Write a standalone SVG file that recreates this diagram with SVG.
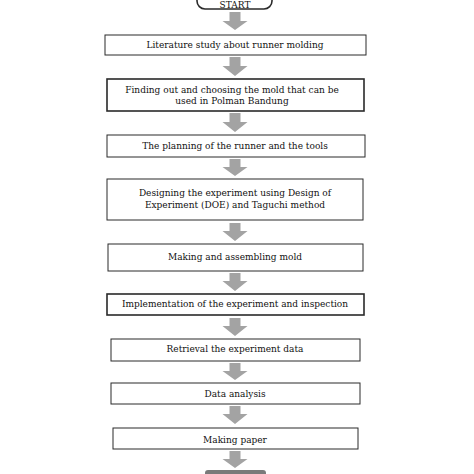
<svg xmlns="http://www.w3.org/2000/svg" width="474" height="474" viewBox="0 0 474 474">
<style>
.box{fill:#fff;stroke:#2a2a2a;stroke-width:1}
.thick{stroke-width:1.6}
.t{font-family:"DejaVu Serif","Liberation Serif",serif;font-size:9px;fill:#111;text-anchor:middle}
.arr{fill:#a3a3a3}
</style>
<rect width="474" height="474" fill="#fff"/>
<g id="start">
<rect class="box thick" x="197" y="-14" width="75" height="23" rx="8"/>
<text class="t" x="235" y="7.5">START</text>
</g>
<g id="n1">
<rect class="box" x="105" y="35" width="261" height="20"/>
<text class="t" x="235" y="48">Literature study about runner molding</text>
</g>
<g id="n2">
<rect class="box thick" x="107" y="79" width="257" height="32"/>
<text class="t" x="232" y="93">Finding out and choosing the mold that can be</text>
<text class="t" x="232" y="104">used in Polman Bandung</text>
</g>
<g id="n3">
<rect class="box" x="107" y="135" width="258" height="22"/>
<text class="t" x="235" y="149">The planning of the runner and the tools</text>
</g>
<g id="n4">
<rect class="box" x="107" y="179" width="256" height="41"/>
<text class="t" x="235" y="196">Designing the experiment  using Design of</text>
<text class="t" x="235" y="208">Experiment  (DOE)  and Taguchi method</text>
</g>
<g id="n5">
<rect class="box" x="108" y="244" width="255" height="27"/>
<text class="t" x="235" y="260">Making and assembling mold</text>
</g>
<g id="n6">
<rect class="box thick" x="107" y="294" width="257" height="21"/>
<text class="t" x="235" y="307">Implementation of the experiment  and inspection</text>
</g>
<g id="n7">
<rect class="box" x="111" y="339" width="249" height="22"/>
<text class="t" x="235" y="352">Retrieval the experiment  data</text>
</g>
<g id="n8">
<rect class="box" x="111" y="383" width="249" height="21"/>
<text class="t" x="235" y="397">Data analysis</text>
</g>
<g id="n9">
<rect class="box" x="113" y="428" width="245" height="21"/>
<text class="t" x="235" y="443">Making paper</text>
</g>
<g id="end">
<rect x="205" y="470" width="61" height="12" rx="3" fill="#7a7a7a"/>
</g>
<g id="connectors" class="arr">
<path d="M229.5 12H240.5V21H247.5L235 30L222.5 21H229.5Z"/>
<path d="M229.5 57H240.5V66H247.5L235 76L222.5 66H229.5Z"/>
<path d="M229.5 113H240.5V122H247.5L235 132L222.5 122H229.5Z"/>
<path d="M229.5 159H240.5V167H247.5L235 176L222.5 167H229.5Z"/>
<path d="M229.5 223H240.5V231H247.5L235 241L222.5 231H229.5Z"/>
<path d="M229.5 273H240.5V281H247.5L235 291L222.5 281H229.5Z"/>
<path d="M229.5 318H240.5V326H247.5L235 336L222.5 326H229.5Z"/>
<path d="M229.5 363H240.5V371H247.5L235 380L222.5 371H229.5Z"/>
<path d="M229.5 406H240.5V414H247.5L235 424L222.5 414H229.5Z"/>
<path d="M229.5 451H240.5V459H247.5L235 468L222.5 459H229.5Z"/>
</g>
</svg>
